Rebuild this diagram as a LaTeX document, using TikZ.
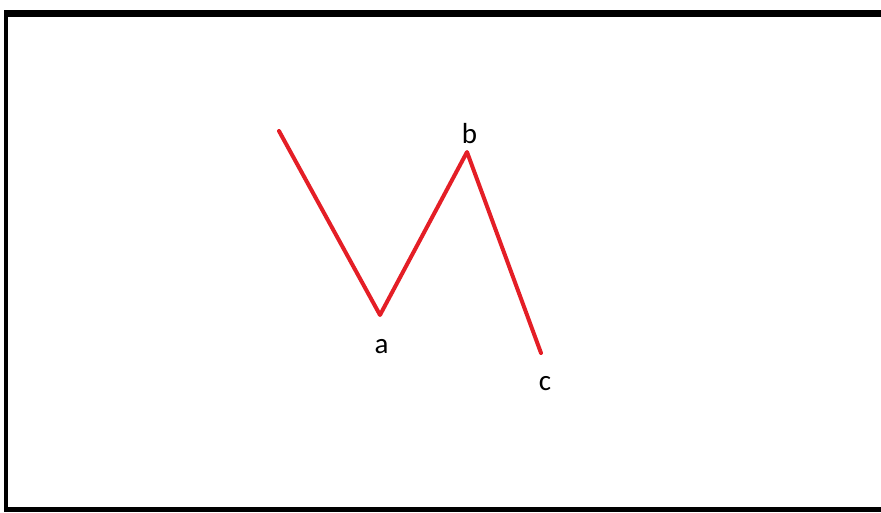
\documentclass[tikz,border=0pt]{standalone}
\usepackage{fontspec}
\setmainfont{Carlito}
\usepackage{tikz}
\definecolor{wavered}{RGB}{228,30,38}
\tikzset{wave/.style={draw=wavered,line width=4pt,line join=round,line cap=round},
  lbl/.style={anchor=base,inner sep=0pt,font=\fontsize{29}{32}\selectfont}}

\begin{document}
\begin{tikzpicture}[x=1pt,y=-1pt]
\useasboundingbox (0,0) rectangle (881,512);
% frame
\fill[black] (4,9.5) rectangle (881,17.3);
\fill[black] (4,9.5) rectangle (8.3,512);
\fill[black] (4,507) rectangle (881,512);

\coordinate (s) at (279,131);
\coordinate (pa) at (380,315);
\coordinate (pb) at (467,152);
\coordinate (pc) at (541,353);
\draw[wave] (s) -- (pa) -- (pb) -- (pc);

\node[lbl] (a) at (381.5,353) {a};
\node[lbl] (b) at (469.5,143) {b};
\node[lbl] (c) at (545,390) {c};
\end{tikzpicture}
\end{document}
